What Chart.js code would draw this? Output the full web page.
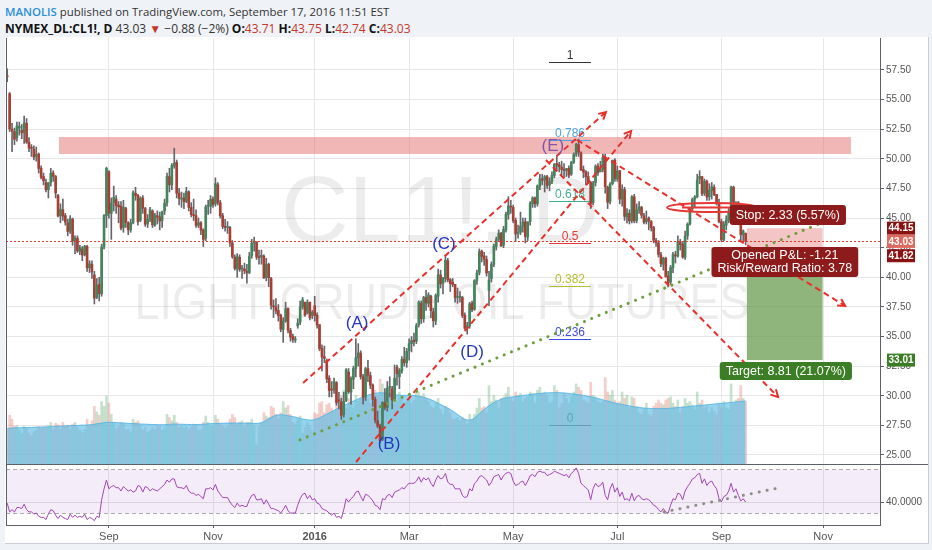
<!DOCTYPE html>
<html>
<head>
<meta charset="utf-8">
<title>NYMEX_DL:CL1!, D</title>
<script src="https://cdn.jsdelivr.net/npm/chart.js@4.4.1/dist/chart.umd.min.js"></script>
<style>
  html, body { margin: 0; padding: 0; }
  body { width: 932px; height: 550px; background: #eff2f7; position: relative; overflow: hidden;
         font-family: "Open Sans", "Liberation Sans", sans-serif; }
  #head { position: absolute; left: 5px; top: 3px; font-size: 12px; line-height: 17px; color: #333; white-space: nowrap; }
  #head .l1 { font-size: 11.4px; }
  #head .user { color: #2a8fd9; font-weight: 600; }
  #head b { color: #111; }
  #head .dn { color: #c0392b; }
  #panel { position: absolute; left: 5px; top: 37px; width: 923px; height: 506px; background: #fff;
           border-right: 1px solid #c9ccd2; border-bottom: 1px solid #c9ccd2; }
  canvas { position: absolute; left: 0; }
</style>
</head>
<body>
<div id="head">
  <div class="l1"><span class="user">MANOLIS</span> published on TradingView.com, September 17, 2016 11:51 EST</div>
  <div><b>NYMEX_DL:CL1!, D</b> 43.03 <span class="dn">&#9660;</span> &minus;0.88 (&minus;2%) <b>O:</b><span class="dn">43.71</span> <b>H:</b><span class="dn">43.75</span> <b>L:</b><span class="dn">42.74</span> <b>C:</b><span class="dn">43.03</span></div>
</div>
<div id="panel"></div>
<canvas id="price" width="932" height="428" style="top:37px"></canvas>
<canvas id="osc" width="932" height="79" style="top:465px"></canvas>
<script>
// ---- data: daily CL1! candles, 2 Jul 2015 .. 16 Sep 2016 (trading days) ----
const monthNames = ['Jan','Feb','Mar','Apr','May','Jun','Jul','Aug','Sep','Oct','Nov','Dec'];
const holidays = ['2015-07-03','2015-09-07','2015-11-26','2015-12-25','2016-01-01','2016-01-18',
                  '2016-02-15','2016-03-25','2016-05-30','2016-07-04','2016-09-05','2016-11-24'];
const priceTicks = [25, 27.5, 30, 32.5, 35, 37.5, 40, 42.5, 45, 47.5, 50, 52.5, 55, 57.5];
const rsiTicks = [40];

const opens = [
  57.0,55.5,52.5,52.3,51.8,52.6,52.4,52.2,53.0,51.4,50.9,50.8,50.2,50.4,49.2,48.5,48.0,47.4,48.0,48.8,48.5,
  46.9,45.2,45.7,45.2,44.6,43.9,44.9,43.0,43.3,42.2,42.4,41.9,42.6,40.8,41.1,40.2,38.3,39.4,38.6,42.6,45.2,
  48.9,45.4,46.3,46.6,46.1,46.0,44.2,45.8,44.6,44.0,44.6,47.1,46.9,44.8,46.7,45.8,44.5,44.9,45.6,44.4,45.2,
  45.1,44.8,45.6,46.3,48.5,47.8,49.4,49.7,47.1,46.6,46.7,46.4,47.2,45.9,45.3,45.2,44.4,44.6,44.0,43.3,46.0,46.0,
  46.6,46.2,47.8,46.3,45.2,44.3,44.2,44.2,42.9,41.7,40.7,41.7,40.7,40.7,40.5,40.4,41.8,42.9,43.0,41.7,
  41.7,41.8,40.0,41.1,39.9,37.6,37.5,37.2,36.8,35.6,36.3,37.4,35.5,35.0,34.7,35.9,36.2,37.5,37.9,37.0,37.9,36.8,
  37.6,36.8,36.0,34.0,33.3,33.0,31.5,30.5,30.5,31.1,29.6,29.5,28.4,29.6,32.0,30.3,31.4,32.3,33.2,
  33.6,31.6,29.9,32.3,31.7,30.9,29.7,27.9,27.5,26.3,29.4,29.0,30.7,30.6,29.7,32.4,31.6,32.1,33.1,32.8,
  33.8,34.4,34.7,34.6,36.0,37.8,36.5,38.3,37.8,38.4,37.1,36.3,38.4,40.2,39.5,39.9,41.4,39.8,39.6,39.4,38.3,38.3,
  38.3,36.8,35.7,35.9,37.8,37.3,39.7,40.4,42.2,41.8,41.5,38.9,39.9,41.1,42.6,43.2,43.7,42.7,44.0,45.3,46.0,
  45.9,44.8,43.7,43.8,44.3,44.7,43.4,44.7,46.2,46.7,46.2,47.7,48.3,48.2,48.5,47.8,48.1,48.6,49.6,49.5,49.3,
  49.1,49.0,49.2,48.7,49.7,50.4,51.2,50.5,49.1,48.9,48.5,48.0,46.3,48.0,49.4,48.9,49.1,50.1,47.6,46.4,47.9,49.9,
  48.3,49.0,46.6,47.4,45.1,45.4,44.8,46.8,44.8,45.7,45.9,45.2,44.7,45.0,44.7,44.2,43.1,42.9,41.9,41.1,
  41.6,40.1,39.6,40.8,41.9,41.8,43.0,42.8,41.7,43.5,44.5,45.8,46.6,46.8,48.3,48.5,47.1,48.1,46.8,47.3,47.6,47.0,46.3,
  44.7,43.2,44.4,44.8,45.5,47.6,45.9,46.3,44.9,43.6,43.71
];
const highs = [
  57.6,55.6,53.0,52.6,53.1,53.1,52.9,53.6,53.4,51.8,51.2,51.1,51.0,50.5,49.4,48.8,48.3,48.0,49.2,49.0,48.6,
  47.0,46.2,46.6,45.4,44.9,45.2,45.0,43.5,43.5,42.7,42.6,42.7,42.7,41.4,41.4,40.5,39.9,40.0,42.8,45.3,49.3,
  49.0,46.7,47.7,46.9,46.4,46.4,46.5,45.9,44.7,44.9,47.3,47.6,47.0,46.8,46.9,45.9,45.3,45.9,45.7,45.4,45.6,
  45.5,45.6,46.6,48.8,49.2,49.6,50.9,49.9,47.5,47.2,47.1,47.6,47.3,46.3,46.6,45.7,45.0,44.7,44.1,46.1,46.5,46.9,
  46.8,48.4,48.0,46.5,45.4,44.9,44.7,44.3,43.1,41.9,42.0,41.9,41.0,41.2,41.1,42.1,43.2,43.4,43.0,42.3,
  42.3,41.9,41.6,41.2,40.0,38.1,38.2,37.7,36.9,36.6,37.9,37.4,35.7,35.2,35.0,36.5,38.0,38.3,37.9,38.1,37.9,37.2,
  38.4,37.0,36.0,34.3,34.2,33.1,31.7,31.2,31.5,31.2,30.3,29.8,30.3,32.3,32.3,31.6,32.5,34.8,34.4,
  33.8,31.8,32.4,33.0,32.0,31.0,29.9,28.7,27.6,29.5,30.6,31.2,31.6,30.8,32.6,32.6,32.3,33.3,34.1,34.0,
  34.8,35.0,35.3,36.1,38.0,38.0,38.4,38.9,38.7,38.5,37.4,38.6,40.7,40.6,40.0,41.9,41.6,39.9,39.9,39.4,39.1,38.8,
  38.4,37.0,36.2,37.9,38.0,39.8,40.6,42.4,42.3,42.1,41.8,40.5,41.3,42.8,43.4,44.0,43.8,44.3,45.5,46.8,46.5,
  46.1,45.0,44.4,45.5,45.0,45.0,44.7,46.4,46.8,46.8,47.8,48.7,48.7,48.6,48.6,48.4,48.9,49.6,50.2,49.7,49.8,
  49.6,49.2,49.4,49.8,50.5,51.3,51.67,50.6,49.4,49.0,48.9,48.1,48.1,49.5,49.6,49.8,50.4,50.4,47.7,48.0,49.9,50.0,
  49.4,49.0,47.8,47.6,45.8,45.7,46.9,47.0,46.2,46.4,46.0,45.4,45.6,45.1,44.8,44.3,43.3,43.1,42.1,41.7,
  41.7,40.5,41.0,42.1,42.2,43.5,43.2,43.0,43.9,44.6,45.9,46.7,46.9,48.7,49.0,48.5,48.3,48.2,47.9,48.0,47.8,47.0,46.6,
  44.9,44.7,45.2,45.8,47.7,47.7,46.4,46.4,45.2,44.0,43.75
];
const lows = [
  56.5,52.3,50.6,51.2,51.5,52.0,51.7,51.3,51.3,50.6,50.2,49.9,49.8,48.8,48.3,47.8,47.2,46.7,47.7,48.1,46.7,
  45.1,44.6,44.8,44.4,43.5,43.7,42.7,42.0,42.1,41.9,41.4,41.8,40.5,40.4,39.9,37.75,38.2,38.0,38.4,42.4,44.2,
  45.0,43.2,45.6,45.4,44.6,44.0,43.8,44.2,43.6,43.8,44.5,46.5,44.4,44.7,45.4,44.3,44.2,44.7,44.2,44.3,44.5,
  44.0,44.2,45.3,46.0,47.2,47.4,49.2,46.7,46.1,45.9,45.8,46.3,45.6,45.1,44.8,44.2,44.2,43.6,42.6,43.1,45.3,45.4,
  45.9,46.0,46.1,45.0,44.1,43.9,43.7,42.6,41.6,40.6,40.0,40.5,39.9,40.3,39.5,40.3,41.6,42.2,41.5,41.1,
  41.1,39.9,39.7,39.2,37.3,36.6,36.9,36.3,35.4,34.5,36.2,35.3,34.6,34.5,34.5,35.7,36.0,37.3,36.7,36.9,36.4,36.5,
  36.3,35.7,33.8,32.1,32.8,31.1,29.9,29.9,30.2,29.2,28.9,28.0,28.2,29.5,30.2,29.3,30.6,31.6,32.5,
  31.4,29.3,29.6,31.2,30.6,29.1,27.7,27.3,26.05,26.2,28.8,28.7,29.9,28.9,29.7,30.9,30.6,31.9,32.5,32.4,
  33.0,33.7,34.2,34.4,35.8,36.1,36.2,37.2,37.5,36.6,35.8,36.0,37.9,39.1,38.6,39.6,39.6,38.8,39.2,37.9,37.8,37.9,
  36.6,35.6,35.2,35.7,37.1,37.2,39.4,40.2,41.3,41.0,40.1,37.6,39.6,40.9,42.3,43.0,42.6,42.5,43.8,44.9,45.4,
  44.6,43.0,43.3,43.6,43.8,42.9,43.1,44.4,45.9,45.9,46.0,47.4,47.8,47.2,47.5,47.3,47.9,48.4,49.0,48.9,48.6,
  48.4,48.5,48.4,48.6,49.6,50.2,50.2,49.0,48.4,47.8,47.9,45.8,46.1,47.7,48.6,48.9,48.9,47.1,45.8,46.2,47.8,48.1,
  48.1,46.2,46.0,44.8,44.6,44.5,44.6,44.6,44.6,45.4,45.0,44.5,44.5,44.0,43.9,42.9,42.6,41.7,40.9,40.6,
  40.0,39.19,39.4,40.4,41.2,41.7,42.3,41.6,41.5,43.2,44.4,45.6,45.9,46.7,47.9,46.9,46.9,46.5,46.5,46.6,46.9,46.1,44.6,
  43.0,43.1,44.0,44.6,45.3,45.7,44.8,44.6,43.1,43.0,42.74
];
const closes = [
  56.93,52.53,52.33,51.65,52.78,52.74,52.20,53.04,51.41,50.91,50.89,50.15,50.36,49.19,48.45,48.14,47.39,47.98,48.79,48.52,47.12,
  45.17,45.74,45.15,44.66,43.87,44.96,43.08,43.30,42.23,42.50,41.87,42.62,40.80,41.14,40.45,38.24,39.31,38.60,42.56,45.22,49.20,
  45.41,46.25,46.75,46.05,45.94,44.15,45.92,44.63,44.00,44.59,47.15,46.90,44.68,46.68,45.83,44.48,44.91,45.70,44.43,45.23,45.09,
  44.74,45.54,46.26,48.53,47.81,49.43,49.63,47.10,46.66,46.64,46.38,47.26,45.89,45.29,45.20,44.38,44.60,43.98,43.20,45.94,46.06,46.59,
  46.14,47.90,46.32,45.20,44.29,44.21,44.21,42.93,41.75,40.74,41.74,40.67,40.75,40.54,40.39,41.75,42.87,43.04,41.71,41.65,
  41.85,39.94,41.08,39.97,37.65,37.51,37.16,36.76,35.62,36.31,37.35,35.52,34.95,34.73,34.74,36.14,37.50,38.10,36.81,37.87,36.60,37.04,
  36.76,35.97,33.97,33.27,33.16,31.41,30.44,30.48,31.20,29.42,29.57,28.35,29.53,32.19,30.34,31.45,32.30,33.22,33.62,
  31.62,29.88,32.28,31.72,30.89,29.69,27.94,27.45,26.21,29.44,29.04,30.66,30.77,29.64,31.48,31.87,32.15,33.07,32.78,33.75,
  34.40,34.66,34.57,35.92,37.90,36.50,38.29,37.84,38.50,37.18,36.34,38.46,40.20,39.44,39.91,41.45,39.79,39.46,39.39,38.28,38.32,38.34,
  36.79,35.70,35.89,37.75,37.26,39.72,40.36,42.17,41.76,41.50,40.36,39.78,41.08,42.63,43.18,43.73,42.64,44.04,45.33,46.03,45.92,
  44.78,43.65,43.78,44.32,44.66,43.44,44.66,46.23,46.70,46.21,47.72,48.31,48.19,48.49,47.75,48.08,48.62,49.56,49.48,49.33,49.10,
  49.01,49.17,48.62,49.69,50.36,51.23,50.56,49.07,48.88,48.49,48.01,46.21,47.98,49.37,48.85,49.13,50.11,47.64,46.33,47.85,49.88,48.33,
  48.99,46.60,47.43,45.14,45.41,44.76,46.80,44.75,45.68,45.95,45.24,44.65,44.94,44.75,44.19,43.13,42.92,41.92,41.14,41.60,
  40.06,39.51,40.83,41.93,41.80,43.02,42.77,41.71,43.49,44.49,45.74,46.58,46.79,48.22,48.52,47.05,48.10,46.77,47.33,47.64,46.98,46.35,44.70,
  43.16,44.44,44.83,45.50,47.62,45.88,46.29,44.90,43.58,43.91,43.03
];
// volume, thousand contracts
const volumes = [
  430,610,560,470,480,420,380,470,450,390,350,400,420,470,440,460,450,480,520,430,510,
  490,430,520,470,480,430,500,520,460,420,390,430,560,480,540,720,650,610,780,720,850,
  760,620,520,440,470,520,510,430,440,400,560,520,540,480,430,460,400,420,460,430,480,
  470,420,450,620,580,540,610,520,460,480,450,470,430,460,500,480,420,430,520,600,520,470,
  480,610,560,510,470,450,480,560,620,580,500,520,540,470,520,520,560,480,240,480,
  520,640,600,580,720,700,620,560,640,780,700,730,620,520,500,560,600,380,460,520,480,420,
  640,620,760,780,640,740,760,700,660,800,720,860,920,700,820,760,700,860,780,
  820,900,980,820,760,800,920,860,1060,1000,820,880,840,800,760,780,900,820,760,780,
  820,760,800,880,900,840,880,820,780,720,700,760,820,680,620,720,700,640,560,560,580,540,
  580,560,500,620,560,620,700,820,700,720,640,980,780,860,800,700,820,840,880,960,820,
  780,900,860,880,780,820,840,900,880,760,920,960,880,900,860,760,780,980,920,700,760,
  880,820,760,840,900,1000,960,920,800,780,760,1020,860,840,780,760,780,1080,900,860,920,800,
  760,780,900,820,860,700,840,820,720,640,620,680,760,620,600,720,760,800,760,740,
  800,820,840,760,720,800,640,720,820,760,780,740,680,900,760,800,700,720,640,700,660,620,740,
  700,780,700,680,1000,760,800,820,980,820,780
];
const volumeMA = [
  445,447,450,452,451,453,455,454,456,458,457,459,461,460,462,463,465,464,466,468,470,
  472,474,473,476,478,477,480,482,481,484,486,485,488,490,492,498,503,507,512,516,520,
  522,521,519,518,515,514,512,510,508,507,505,503,502,500,499,498,496,495,494,493,492,
  491,490,492,494,496,498,500,499,498,497,496,495,494,493,492,493,494,496,498,500,502,504,
  505,506,507,508,509,510,511,512,512,512,511,511,510,510,510,509,509,508,508,510,
  515,530,548,566,584,598,608,614,616,614,610,604,598,592,586,578,570,562,556,552,550,550,
  556,566,578,592,608,624,640,656,672,688,702,716,730,744,758,772,786,800,814,
  826,838,850,860,870,878,884,888,890,890,888,884,878,872,866,862,860,858,858,858,
  860,858,856,852,848,842,835,826,815,803,790,776,760,744,728,712,696,680,662,642,620,598,
  578,560,550,548,556,575,600,628,656,682,706,728,748,766,782,796,808,818,826,832,836,
  840,844,848,852,856,860,864,868,872,876,879,882,885,887,889,890,891,892,892,891,890,
  888,885,882,878,874,870,866,862,857,852,846,840,833,826,818,810,802,794,786,778,770,762,
  756,750,744,738,732,726,720,715,710,706,702,699,697,695,694,693,692,692,692,693,
  694,696,698,700,702,704,707,710,713,716,719,722,725,728,731,734,737,740,743,746,749,752,755,
  758,761,764,767,770,773,776,779,782,785,788
];
const rsi = [
  39,31,33,31,35, 35,34,38,33,31, 31,29,30,27,26, 26,24,29,33,32, 28,25,28,26,25,
  24,29,26,28,26, 27,26,29,24,26, 25,23,27,26,42, 52,60,52,54,55, 53,53,50,54,52,
  50,51,49,50,55, 54,49,54,53,50, 52,51,50,52,54, 56,60,58,61,61, 54,53,53,52,55,
  50,48,48,46,47, 45,43,52,52,53, 51,56,50,47,44, 44,44,40,37,35, 39,36,37,36,36,
  42,46,47,42,42, 43,38,42,38,34, 34,33,32,30,33, 37,32,30,30,30, 37,43,47,48,43,
  46,42,43,39,38, 34,33,32,30,28, 30,26,27,25,33, 43,40,43,45,49, 50,45,41,47,46,
  44,41,37,36,33, 43,42,46,47,44, 49,50,51,53,52, 55,57,57,57,59, 63,58,62,60,62,
  57,54,60,64,61, 62,66,58,56,56, 52,52,52,46,44, 45,52,50,57,59, 63,64,62,60,55,
  58,63,64,65,60, 64,66,67,66,59, 55,56,58,59,55, 59,64,65,63,67, 68,67,67,64,65,
  66,68,67,66,65, 64,65,62,66,68, 71,66,57,55,53, 51,42,52,57,54, 55,58,46,42,52,
  57,49,53,45,49, 42,43,41,48,41, 45,46,43,42,43, 42,40,37,36,33, 31,34,31,30,37,
  43,42,48,47,42, 50,54,57,61,62, 65,66,57,61,55, 58,59,55,52,43, 40,45,46,50,57,
  49,52,46,41,43,40
];

// ---- category axis: trading days, with empty future slots ----
const SLOTS = 361;
const dates = [];
for (let d = new Date(Date.UTC(2015, 6, 2)); dates.length < SLOTS; d.setUTCDate(d.getUTCDate() + 1)) {
  const wd = d.getUTCDay();
  const s = d.toISOString().slice(0, 10);
  if (wd === 0 || wd === 6 || holidays.includes(s)) continue;
  dates.push(s);
}
const monthTicks = [];
dates.forEach((s, i) => {
  const m = +s.slice(5, 7) - 1;
  if (i > 0 && s.slice(5, 7) !== dates[i - 1].slice(5, 7) && m % 2 === 0) monthTicks.push(i);
});
function monthLabel(i) {
  const s = dates[i], m = +s.slice(5, 7) - 1;
  return m === 0 ? s.slice(0, 4) : monthNames[m];
}

// ---- drawings, in (bar index, price) units ----
const F = '"Liberation Sans", Arial, sans-serif';
const UP = '#42845c', DOWN = '#a83f35', WICK = '#66666a';
const resistance = { i0: 21.4, i1: 348.5, p0: 50.41, p1: 51.84 };
const fib = { i0: 223.8, i1: 241.1, lo: 27.53, hi: 58.18,
  levels: [[1,'#333'],[0.786,'#4fa3e0'],[0.618,'#3fae8c'],[0.5,'#e53935'],[0.382,'#b5c030'],[0.236,'#3d4de0'],[0,'#333']] };
const redLines = [
  { a: [122.2, 31.08], b: [247.3, 53.95] },
  { a: [144.1, 24.41], b: [257.7, 52.35] },
  { a: [222.5, 49.90], b: [318.4, 29.90] },
  { a: [235.4, 51.59], b: [346.1, 37.58] }
];
const greenDots = { a: [120.9, 26.27], b: [346.1, 45.43] };
const rsiDots = { a: [271.3, 30.9], b: [318.4, 52.7] };
const waves = [
  ['(A)', 144.5, 36.14, '#2536c4'], ['(B)', 157.7, 25.93, '#2536c4'], ['(C)', 180.4, 42.81, '#2536c4'],
  ['(D)', 192.0, 33.69, '#2536c4'], ['(E)', 225.4, 51.08, '#8456a8']
];
const trade = { i0: 305.5, i1: 336.8, iLabel: 321.2, entry: 41.82, stop: 44.15, target: 33.01, last: 43.03 };
const mark = { i: 291.1, p: 45.89 };
const axisTags = [[44.15, '#8c1212'], [41.82, '#8c1212'], [43.03, '#e0695e'], [33.01, '#3c7e25']];

function line(ctx, x0, y0, x1, y1) { ctx.beginPath(); ctx.moveTo(x0, y0); ctx.lineTo(x1, y1); ctx.stroke(); }
function arrowHead(ctx, x0, y0, x1, y1, len) {
  const a = Math.atan2(y1 - y0, x1 - x0);
  ctx.beginPath();
  ctx.moveTo(x1 - len * Math.cos(a - 0.5), y1 - len * Math.sin(a - 0.5));
  ctx.lineTo(x1, y1);
  ctx.lineTo(x1 - len * Math.cos(a + 0.5), y1 - len * Math.sin(a + 0.5));
  ctx.stroke();
}
function tag(ctx, lines, cx, cy, bg, h) {
  ctx.font = '12.5px ' + F;
  const w = Math.max(...lines.map(t => ctx.measureText(t).width)) + 12;
  ctx.fillStyle = bg;
  ctx.beginPath(); ctx.roundRect(cx - w / 2, cy - h / 2, w, h, 3); ctx.fill();
  ctx.fillStyle = '#fff'; ctx.textAlign = 'center'; ctx.textBaseline = 'middle';
  const lh = 13;
  lines.forEach((t, k) => ctx.fillText(t, cx, cy + (k - (lines.length - 1) / 2) * lh + 0.5));
}
// keep the plot area exactly where the panes are: no extra room for edge labels
function noEdgePadding(s) { s.paddingTop = 0; s.paddingBottom = 0; s.paddingLeft = 0; s.paddingRight = 0; }

const mainDecor = {
  id: 'mainDecor',
  beforeDatasetsDraw(chart) {
    const { ctx, chartArea: a, scales: { x, y } } = chart;
    ctx.save();
    ctx.beginPath(); ctx.rect(a.left, a.top, a.right - a.left, a.bottom - a.top); ctx.clip();
    const cx = (a.left + a.right) / 2, cy = (a.top + a.bottom) / 2;
    ctx.fillStyle = 'rgba(0,0,0,0.075)';
    ctx.textAlign = 'center'; ctx.textBaseline = 'middle';
    ctx.font = '94px ' + F;
    ctx.fillText('CL1!, D', cx - 3, cy - 35);
    ctx.font = '50px ' + F;
    ctx.fillText('LIGHT CRUDE OIL FUTURES', cx - 1, cy + 54, 615);
    // resistance band
    ctx.fillStyle = 'rgba(228,110,110,0.5)';
    const rx0 = x.getPixelForValue(resistance.i0), rx1 = x.getPixelForValue(resistance.i1);
    const ry0 = y.getPixelForValue(resistance.p1), ry1 = y.getPixelForValue(resistance.p0);
    ctx.fillRect(rx0, ry0, rx1 - rx0, ry1 - ry0);
    // fib retracement levels
    ctx.lineWidth = 1; ctx.font = '12px ' + F; ctx.textBaseline = 'bottom';
    const fx0 = x.getPixelForValue(fib.i0), fx1 = x.getPixelForValue(fib.i1);
    fib.levels.forEach(([lv, col]) => {
      const yy = Math.round(y.getPixelForValue(fib.lo + (fib.hi - fib.lo) * lv)) + 0.5;
      ctx.strokeStyle = col; ctx.fillStyle = col;
      line(ctx, fx0, yy, fx1, yy);
      ctx.fillText(String(lv), (fx0 + fx1) / 2, yy - 1);
    });
    // position tool zones
    const tx0 = x.getPixelForValue(trade.i0), tx1 = x.getPixelForValue(trade.i1);
    const yStop = y.getPixelForValue(trade.stop), yEntry = y.getPixelForValue(trade.entry), yTarget = y.getPixelForValue(trade.target);
    ctx.fillStyle = 'rgba(235,150,150,0.55)';
    ctx.fillRect(tx0, yStop, tx1 - tx0, yEntry - yStop);
    ctx.fillStyle = 'rgba(95,150,70,0.7)';
    ctx.fillRect(tx0, yEntry, tx1 - tx0, yTarget - yEntry);
    ctx.restore();
  },
  afterDatasetsDraw(chart) {
    const { ctx, chartArea: a, scales: { x, y } } = chart;
    const P = (pt) => [x.getPixelForValue(pt[0]), y.getPixelForValue(pt[1])];
    ctx.save();
    ctx.beginPath(); ctx.rect(a.left, a.top, a.right - a.left, a.bottom - a.top); ctx.clip();
    // last price line
    const yl = Math.round(y.getPixelForValue(trade.last)) + 0.5;
    ctx.strokeStyle = '#e23a2f'; ctx.lineWidth = 1; ctx.setLineDash([2, 2]);
    line(ctx, a.left, yl, a.right, yl);
    // channel / trend lines
    ctx.strokeStyle = '#e8302a'; ctx.lineWidth = 2;
    redLines.forEach(l => {
      const [x0, y0] = P(l.a), [x1, y1] = P(l.b);
      ctx.setLineDash([6, 4]); line(ctx, x0, y0, x1, y1);
      ctx.setLineDash([]); arrowHead(ctx, x0, y0, x1, y1, 8);
    });
    // green dotted support
    ctx.strokeStyle = '#6f9e42'; ctx.lineWidth = 3; ctx.lineCap = 'round'; ctx.setLineDash([0.1, 7.8]);
    { const [x0, y0] = P(greenDots.a), [x1, y1] = P(greenDots.b); line(ctx, x0, y0, x1, y1); }
    ctx.lineCap = 'butt'; ctx.setLineDash([]);
    // stop marker
    const [mx, my] = P([mark.i, mark.p]);
    ctx.strokeStyle = '#e53935'; ctx.lineWidth = 2;
    ctx.beginPath(); ctx.ellipse(mx, my, 45, 4.5, 0, 0, Math.PI * 2); ctx.stroke();
    line(ctx, mx - 30, my, mx + 50, my);
    // wave labels
    ctx.font = '17px ' + F; ctx.textAlign = 'center'; ctx.textBaseline = 'middle';
    waves.forEach(([t, i, p, c]) => { const [wx, wy] = P([i, p]); ctx.fillStyle = c; ctx.fillText(t, wx, wy); });
    // position labels
    const lx = x.getPixelForValue(trade.iLabel);
    tag(ctx, ['Stop: 2.33 (5.57%)'], lx + 3, y.getPixelForValue(45.26), '#8e1b1b', 20);
    tag(ctx, ['Opened P&L: -1.21', 'Risk/Reward Ratio: 3.78'], lx, y.getPixelForValue(41.29), '#8e1b1b', 30);
    tag(ctx, ['Target: 8.81 (21.07%)'], lx + 1, y.getPixelForValue(32.09), '#3c7e25', 18);
    ctx.restore();
  },
  afterDraw(chart) {
    const { ctx, chartArea: a, scales: { y } } = chart;
    ctx.save();
    ctx.strokeStyle = '#5d6068'; ctx.lineWidth = 1;
    line(ctx, a.left + 0.5, a.top, a.left + 0.5, a.bottom);
    line(ctx, a.right, a.bottom + 0.5, 928, a.bottom + 0.5);
    ctx.font = 'bold 10px ' + F; ctx.textAlign = 'center'; ctx.textBaseline = 'middle';
    axisTags.forEach(([p, bg]) => {
      const yy = y.getPixelForValue(p);
      ctx.fillStyle = bg; ctx.fillRect(a.right + 7, yy - 6.5, 28, 13);
      ctx.fillStyle = '#fff'; ctx.fillText(p.toFixed(2), a.right + 21, yy + 0.5);
    });
    ctx.restore();
  }
};

const oscDecor = {
  id: 'oscDecor',
  beforeDatasetsDraw(chart) {
    const { ctx, chartArea: a, scales: { y } } = chart;
    const y70 = Math.round(y.getPixelForValue(70)) + 0.5, y30 = Math.round(y.getPixelForValue(30)) + 0.5;
    ctx.save();
    ctx.fillStyle = 'rgba(150,80,200,0.1)';
    ctx.fillRect(a.left, y70, a.right - a.left, y30 - y70);
    ctx.strokeStyle = '#ababab'; ctx.lineWidth = 1; ctx.setLineDash([4, 3]);
    line(ctx, a.left, y70, a.right, y70);
    line(ctx, a.left, y30, a.right, y30);
    ctx.restore();
  },
  afterDatasetsDraw(chart) {
    const { ctx, scales: { x, y } } = chart;
    ctx.save();
    ctx.strokeStyle = '#8b9086'; ctx.lineWidth = 3; ctx.lineCap = 'round'; ctx.setLineDash([0.1, 8]);
    line(ctx, x.getPixelForValue(rsiDots.a[0]), y.getPixelForValue(rsiDots.a[1]),
              x.getPixelForValue(rsiDots.b[0]), y.getPixelForValue(rsiDots.b[1]));
    ctx.restore();
  },
  afterDraw(chart) {
    const { ctx, chartArea: a } = chart;
    ctx.save();
    ctx.strokeStyle = '#5d6068'; ctx.lineWidth = 1;
    line(ctx, a.left + 0.5, a.top, a.left + 0.5, a.bottom);
    ctx.restore();
  }
};

const bodies = opens.map((o, i) => [o, closes[i]]);
const wicks = lows.map((l, i) => [l, highs[i]]);
const bodyColors = opens.map((o, i) => closes[i] >= o ? UP : DOWN);
const volColors = opens.map((o, i) => closes[i] >= o ? 'rgba(120,185,135,0.42)' : 'rgba(225,125,115,0.38)');

new Chart(document.getElementById('price'), {
  type: 'bar',
  data: {
    labels: dates,
    datasets: [
      { label: 'Candles', data: bodies, backgroundColor: bodyColors, barThickness: 2, grouped: false, minBarLength: 1, order: 0, yAxisID: 'y' },
      { label: 'Wicks', data: wicks, backgroundColor: WICK, barThickness: 1, grouped: false, order: 1, yAxisID: 'y' },
      { type: 'line', label: 'Volume MA', data: volumeMA, borderColor: 'rgba(85,178,225,0.9)', borderWidth: 1,
        backgroundColor: 'rgba(100,190,232,0.68)', fill: 'origin', pointRadius: 0, tension: 0, order: 2, yAxisID: 'yv' },
      { label: 'Volume', data: volumes, backgroundColor: volColors, barThickness: 2, grouped: false, order: 3, yAxisID: 'yv' }
    ]
  },
  options: {
    responsive: false, animation: false, events: [],
    layout: { padding: { left: 6, right: 4, top: 1, bottom: 1 } },
    plugins: { legend: { display: false }, tooltip: { enabled: false } },
    scales: {
      x: {
        offset: true,
        grid: { offset: false, color: '#e7e7e7', drawTicks: false },
        ticks: { display: false, autoSkip: false },
        border: { display: true, color: '#5d6068' },
        afterBuildTicks: s => { s.ticks = s.ticks.filter(t => monthTicks.includes(t.value)); },
        afterFit: s => { s.height = 0; noEdgePadding(s); }
      },
      y: {
        position: 'right', min: 24.24, max: 60.2,
        afterBuildTicks: s => { s.ticks = priceTicks.map(v => ({ value: v })); },
        ticks: { callback: v => Number(v).toFixed(2), color: '#555', font: { family: F, size: 10 }, padding: 2 },
        grid: { color: '#e7e7e7', tickColor: '#5d6068', tickLength: 4 },
        border: { color: '#5d6068' },
        afterFit: s => { s.width = 48; noEdgePadding(s); }
      },
      yv: { display: false, min: 0, max: 5325 }
    }
  },
  plugins: [mainDecor]
});

new Chart(document.getElementById('osc'), {
  type: 'line',
  data: {
    labels: dates,
    datasets: [{ label: 'RSI', data: rsi, borderColor: '#a045b4', borderWidth: 1, pointRadius: 0, tension: 0 }]
  },
  options: {
    responsive: false, animation: false, events: [],
    layout: { padding: { left: 6, right: 4, top: 0, bottom: 0 } },
    plugins: { legend: { display: false }, tooltip: { enabled: false } },
    scales: {
      x: {
        offset: true,
        grid: { offset: false, color: '#e7e7e7', tickColor: '#5d6068', tickLength: 3 },
        border: { color: '#5d6068' },
        ticks: {
          autoSkip: false, maxRotation: 0, padding: 2, color: '#555',
          callback: v => monthLabel(v),
          font: ctx => ({ family: F, size: 11, weight: ctx.tick && /^\d{4}$/.test(ctx.tick.label) ? 'bold' : 'normal' })
        },
        afterBuildTicks: s => { s.ticks = s.ticks.filter(t => monthTicks.includes(t.value)); },
        afterFit: s => { s.height = 19; noEdgePadding(s); }
      },
      y: {
        position: 'right', min: 19.09, max: 73.64,
        afterBuildTicks: s => { s.ticks = rsiTicks.map(v => ({ value: v })); },
        ticks: { callback: v => Number(v).toFixed(4), color: '#555', font: { family: F, size: 10 }, padding: 2 },
        grid: { color: '#e2e2e2', tickColor: '#5d6068', tickLength: 4 },
        border: { color: '#5d6068' },
        afterFit: s => { s.width = 48; noEdgePadding(s); }
      }
    }
  },
  plugins: [oscDecor]
});
</script>
</body>
</html>
